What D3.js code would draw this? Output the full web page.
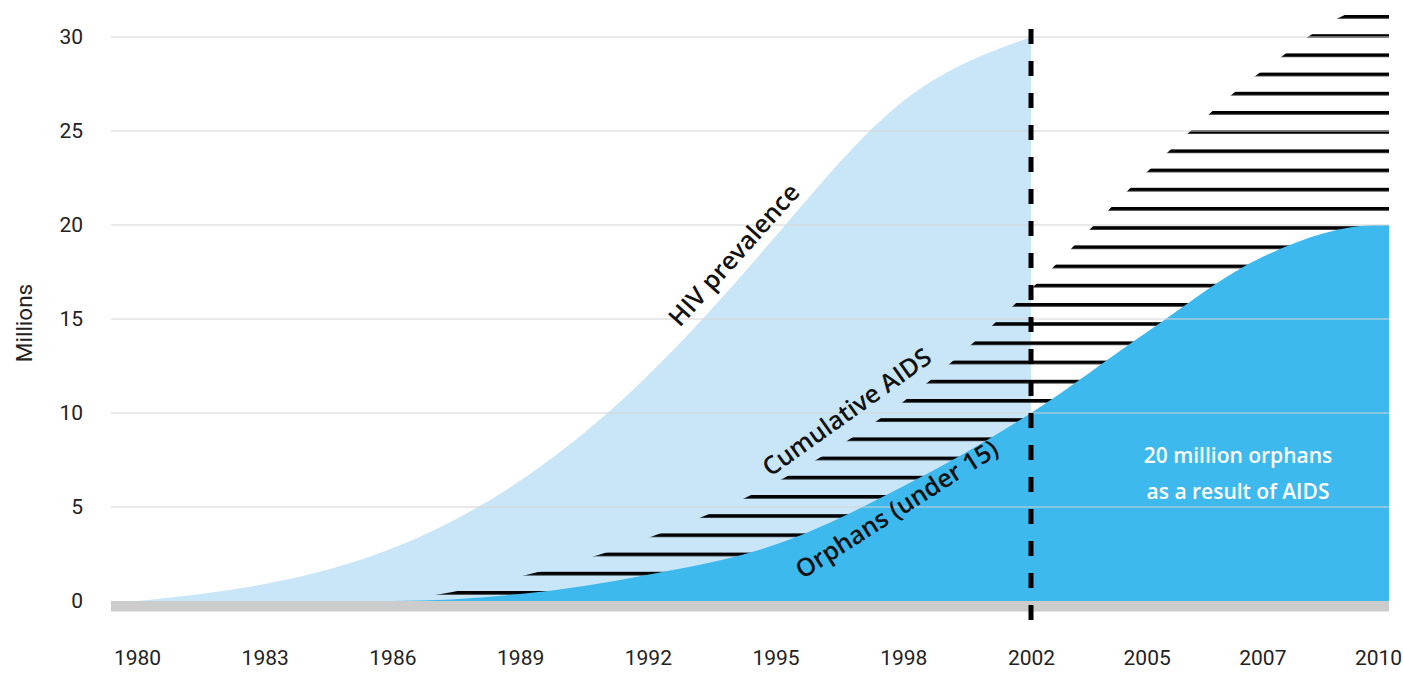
<!DOCTYPE html>
<html><head><meta charset="utf-8">
<script src="https://cdn.jsdelivr.net/npm/d3@7"></script>
<style>body{margin:0;background:#fff;} svg{display:block}</style>
</head><body><svg id="chart" width="1403" height="673"></svg>
<script>
// ---- data (millions) ----
const yearLabels = ["1980","1983","1986","1989","1992","1995","1998","2002","2005","2007","2010"];
const hivPrevalence = [0, 0.9, 2.8, 6.4, 12.0, 19.4, 26.6, 30];          // 1980 .. 2002
const cumulativeAids = [0, 0, 0.1, 1.3, 3.35, 6.3, 10.6, 16.6, 22.8, 28.2, 31.6];
const orphans = [0, 0, 0, 0.37, 1.4, 3.0, 6.1, 10, 14.3, 18.3, 20];
const yTicks = [0, 5, 10, 15, 20, 25, 30];
const cutoffLabel = "2002";
const labelHIV = "HIV prevalence";
const labelCum = "Cumulative AIDS";
const labelOrph = "Orphans (under 15)";
const noteLines = ["20 million orphans", "as a result of AIDS"];

// ---- layout ----
const svg = d3.select("#chart");
const plotLeft = 111, plotRight = 1389;
const x = d3.scaleLinear().domain([0, 7, 10]).range([137, 1031, 1378]);
const y = d3.scaleLinear().domain([0, 30]).range([601, 37]);

function seriesPoints(vals, extendToEdge) {
  const pts = vals.map((v, i) => ({ px: x(i), v }));
  if (extendToEdge) pts.push({ px: plotRight, v: vals[vals.length - 1] });
  return pts;
}
const areaMono = d3.area().x(d => d.px).y0(y(0)).y1(d => y(d.v)).curve(d3.curveMonotoneX);
const areaSmooth = d3.area().x(d => d.px).y0(y(0)).y1(d => y(d.v)).curve(d3.curveNatural);

// hatch pattern
const defs = svg.append("defs");
const pat = defs.append("pattern").attr("id", "hatch")
  .attr("patternUnits", "userSpaceOnUse")
  .attr("x", 0).attr("y", 15).attr("width", 40).attr("height", 19.2);
pat.append("rect").attr("x", 0).attr("y", 0).attr("width", 40).attr("height", 3.6).attr("fill", "#000");

// areas
svg.append("path").datum(seriesPoints(hivPrevalence, false))
  .attr("d", areaSmooth).attr("fill", "#C9E6F8");
svg.append("path").datum(seriesPoints(cumulativeAids, true))
  .attr("d", areaMono).attr("fill", "url(#hatch)");
svg.append("path").datum(seriesPoints(orphans, true))
  .attr("d", areaMono).attr("fill", "#3DB9EE");

// gridlines
svg.append("g").selectAll("line").data(yTicks.filter(d => d > 0)).join("line")
  .attr("x1", plotLeft).attr("x2", plotRight)
  .attr("y1", d => y(d)).attr("y2", d => y(d))
  .attr("stroke", "#D3D3D3").attr("stroke-width", 1.2);

// baseline bar
svg.append("rect").attr("x", plotLeft).attr("y", y(0)).attr("width", plotRight - plotLeft)
  .attr("height", 10.5).attr("fill", "#CCCCCC");

// dashed cutoff line
const cx = x(yearLabels.indexOf(cutoffLabel));
svg.append("line").attr("x1", cx).attr("x2", cx).attr("y1", 29).attr("y2", 621)
  .attr("stroke", "#000").attr("stroke-width", 5).attr("stroke-dasharray", "15,17");

// axes
const yAxis = svg.append("g").attr("transform", `translate(${plotLeft},0)`)
  .call(d3.axisLeft(y).tickValues(yTicks).tickSize(0).tickPadding(28));
const xAxis = svg.append("g").attr("transform", `translate(0,650)`)
  .call(d3.axisBottom(x).tickValues(d3.range(yearLabels.length)).tickFormat(i => yearLabels[i]).tickSize(0).tickPadding(0));
[yAxis, xAxis].forEach(g => {
  g.select(".domain").remove();
  g.selectAll("text").attr("font-family", "Roboto, sans-serif").attr("font-size", 21).attr("fill", "#222");
});

svg.append("text").attr("transform", "translate(24,323) rotate(-90)")
  .attr("text-anchor", "middle").attr("dominant-baseline", "central")
  .attr("font-family", "Roboto, sans-serif").attr("font-size", 22.5).attr("fill", "#222")
  .text("Millions");

// annotations
function rotLabel(t, cxp, cyp, ang, size, fill) {
  svg.append("text").attr("transform", `translate(${cxp},${cyp}) rotate(${ang})`)
    .attr("text-anchor", "middle").attr("dominant-baseline", "central")
    .attr("font-family", "'Open Sans', sans-serif").attr("font-weight", 600)
    .attr("font-size", size).attr("fill", fill).text(t);
}
rotLabel(labelHIV, 733, 254, -48, 25, "#111");
rotLabel(labelCum, 846, 411, -35.5, 25, "#111");
rotLabel(labelOrph, 896, 508, -32.5, 25, "#111");
noteLines.forEach((t, i) => {
  svg.append("text").attr("x", 1238).attr("y", 455 + i * 36)
    .attr("text-anchor", "middle").attr("dominant-baseline", "central")
    .attr("font-family", "'Open Sans', sans-serif").attr("font-weight", 600)
    .attr("font-size", 21).attr("fill", "#fff").text(t);
});
</script>
</body></html>
